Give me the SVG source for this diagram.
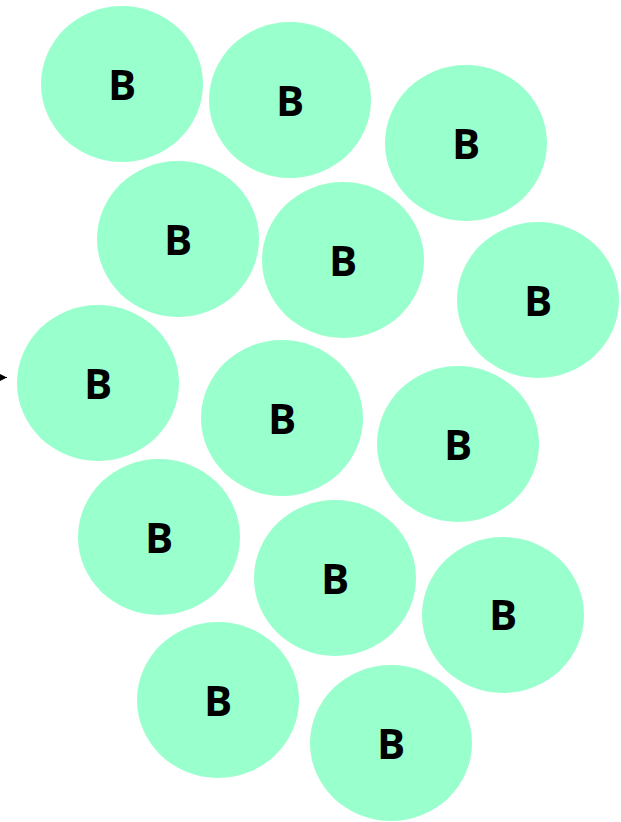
<svg xmlns="http://www.w3.org/2000/svg" width="621" height="822" viewBox="0 0 621 822">
<style>
.n ellipse{fill:#99FFCC;}
.n text{font-family:"Open Sans","DejaVu Sans",sans-serif;font-weight:bold;font-size:42px;fill:#000;text-anchor:middle;}
</style>
<defs>
<marker id="ah" markerWidth="8" markerHeight="8" refX="7" refY="3.5" orient="auto" markerUnits="userSpaceOnUse">
<path d="M0,0 L7,3.5 L0,7 z" fill="#000"/>
</marker>
</defs>
<rect width="621" height="822" fill="#fff"/>
<g id="connectors">
<line x1="-10" y1="377.5" x2="7" y2="377.5" stroke="#000" stroke-width="1" marker-end="url(#ah)"/>
</g>
<g id="n1" class="n"><ellipse cx="122" cy="84" rx="81" ry="78"/><text x="122" y="100">B</text></g>
<g id="n2" class="n"><ellipse cx="290" cy="100" rx="81" ry="78"/><text x="290" y="116">B</text></g>
<g id="n3" class="n"><ellipse cx="466" cy="143" rx="81" ry="78"/><text x="466" y="159">B</text></g>
<g id="n4" class="n"><ellipse cx="178" cy="239" rx="81" ry="78"/><text x="178" y="255">B</text></g>
<g id="n5" class="n"><ellipse cx="343" cy="260" rx="81" ry="78"/><text x="343" y="276">B</text></g>
<g id="n6" class="n"><ellipse cx="538" cy="300" rx="81" ry="78"/><text x="538" y="316">B</text></g>
<g id="n7" class="n"><ellipse cx="98" cy="383" rx="81" ry="78"/><text x="98" y="399">B</text></g>
<g id="n8" class="n"><ellipse cx="282" cy="418" rx="81" ry="78"/><text x="282" y="434">B</text></g>
<g id="n9" class="n"><ellipse cx="458" cy="444" rx="81" ry="78"/><text x="458" y="460">B</text></g>
<g id="n10" class="n"><ellipse cx="159" cy="537" rx="81" ry="78"/><text x="159" y="553">B</text></g>
<g id="n11" class="n"><ellipse cx="335" cy="578" rx="81" ry="78"/><text x="335" y="594">B</text></g>
<g id="n12" class="n"><ellipse cx="503" cy="615" rx="81" ry="78"/><text x="503" y="630">B</text></g>
<g id="n13" class="n"><ellipse cx="218" cy="700" rx="81" ry="78"/><text x="218" y="716">B</text></g>
<g id="n14" class="n"><ellipse cx="391" cy="743" rx="81" ry="78"/><text x="391" y="759">B</text></g>
</svg>
